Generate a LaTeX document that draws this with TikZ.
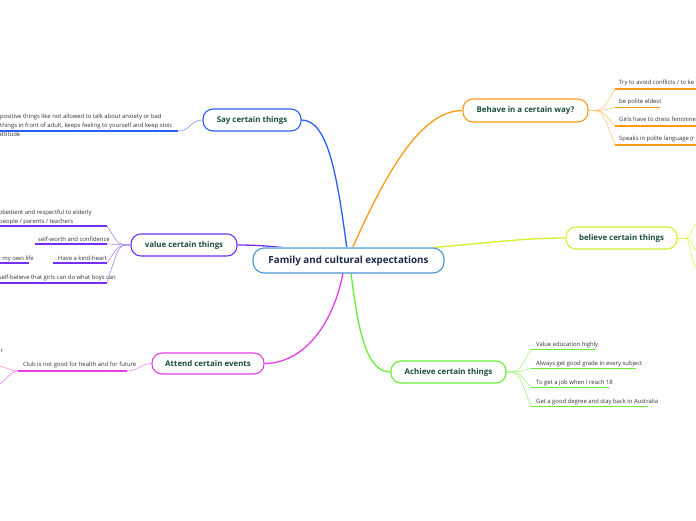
\documentclass[tikz,border=0pt]{standalone}
\usepackage{fontspec}
\setmainfont{Open Sans}
\definecolor{tgreen}{HTML}{1B4D3E}
\definecolor{navy}{HTML}{1C2A4A}
\definecolor{cblue}{HTML}{4A94D4}
\definecolor{ctop}{HTML}{8EC2EA}
\definecolor{bblue}{HTML}{2A5EF5}
\definecolor{bpurple}{HTML}{7430F0}
\definecolor{bmag}{HTML}{E63CE8}
\definecolor{borange}{HTML}{FF9A12}
\definecolor{byellow}{HTML}{D4F02A}
\definecolor{bgreen}{HTML}{66EE33}
\definecolor{leafgray}{HTML}{333333}
\begin{document}
\begin{tikzpicture}[x=1pt,y=-1pt,
  topic/.style={draw, fill=white, rounded corners=10pt, line width=1.1pt, text=tgreen,
    font=\bfseries\fontsize{7.9}{9}\selectfont, minimum height=22pt, inner sep=0pt},
  centre/.style={draw=cblue, fill=white, rounded corners=11pt, line width=1.1pt, text=navy,
    font=\bfseries\fontsize{9.8}{11}\selectfont, minimum height=25pt, minimum width=191pt, inner sep=0pt},
  leaf/.style={font=\fontsize{5.9}{7}\selectfont, text=leafgray, anchor=base west, inner sep=0pt},
  leafe/.style={font=\fontsize{5.9}{7}\selectfont, text=leafgray, anchor=base east, inner sep=0pt},
  under/.style={line width=1.5pt},
  conn/.style={line width=0.6pt},
  mainc/.style={line width=1.3pt}]
\useasboundingbox (0,0) rectangle (696,520);
\begin{scope}
\clip (0,0) rectangle (696,520);

% ---------- main branches ----------
\coordinate (cSay) at (347,249);
\coordinate (cBeh) at (352,249);
\coordinate (cVal) at (296,249);
\coordinate (cBel) at (420,248.5);
\coordinate (cAtt) at (343,273);
\coordinate (cAch) at (351,273);

\node[topic, draw=bblue, minimum width=98pt] (say) at (252,120) {Say certain things};
\node[topic, draw=bpurple, minimum width=106pt] (val) at (184,245) {value certain things};
\node[topic, draw=bmag, minimum width=112pt, minimum height=21pt] (att) at (208,363.5) {Attend certain events};
\node[topic, draw=borange, minimum width=125pt, minimum height=23pt] (beh) at (525.5,110.5) {Behave in a certain way?};
\node[topic, draw=byellow, minimum width=111pt] (bel) at (621.5,238) {believe certain things};
\node[topic, draw=bgreen, minimum width=115pt] (ach) at (448.5,372) {Achieve certain things};

\draw[mainc, bblue] (cSay) .. controls (337,175) and (328,120) .. (say.east);
\draw[mainc, borange] (cBeh) .. controls (385,175) and (420,110.5) .. (beh.west);
\draw[mainc, bpurple] (cVal) .. controls (270,246) and (255,245) .. (val.east);
\draw[mainc, byellow] (cBel) .. controls (480,244) and (520,238) .. (bel.west);
\draw[mainc, bmag] (cAtt) .. controls (332,330) and (300,363.5) .. (att.east);
\draw[mainc, bgreen] (cAch) .. controls (358,330) and (366,372) .. (ach.west);

\node[centre] (root) at (348.5,260.5) {Family and cultural expectations};
\draw[ctop, line width=1.3pt] ([xshift=11pt]root.north west) -- ([xshift=-11pt]root.north east);

% ---------- Say certain things ----------
\coordinate (s1a) at (-2,131);
\coordinate (s1b) at (178,131);
\draw[under, bblue] (s1a) -- (s1b);
\draw[conn, bblue!60] (say.west) .. controls (190,120) and (191,131) .. (s1b);
\node[leaf] (s1t1) at (0,118) {positive things like not allowed to talk about anxiety or bad};
\node[leaf] (s1t2) at (0,127) {things in front of adult, keeps feeling to yourself and keep stoic};
\node[leaf] (s1t3) at (-1.5,136) {attitude};

% ---------- value certain things ----------
\coordinate (v1a) at (-2,226);   \coordinate (v1b) at (107,226);
\coordinate (v2a) at (35,244);   \coordinate (v2b) at (107,244);
\coordinate (v3a) at (53,263);   \coordinate (v3b) at (107,263);
\coordinate (v4a) at (-2,283);   \coordinate (v4b) at (107,283);
\coordinate (v5a) at (-2,263);   \coordinate (v5b) at (29,263);
\foreach \a/\b in {v1a/v1b, v2a/v2b, v3a/v3b, v4a/v4b, v5a/v5b}
  \draw[under, bpurple] (\a) -- (\b);
\foreach \b in {v1b, v2b, v3b, v4b}
  \draw[conn, bpurple!60] (val.west) .. controls (118,245) and (119,245) .. (\b);
\node[leaf] (v1t1) at (-1.5,214) {obedient and respectful to elderly};
\node[leaf] (v1t2) at (-1,223) {people / parents / teachers};
\node[leaf] (v2t) at (38,241) {self-worth and confidence};
\node[leaf] (v3t) at (58,260) {Have a kind-heart};
\node[leafe] (v5t) at (34,260) {t my own life};
\node[leaf] (v4t) at (-1.5,279) {self-believe that girls can do what boys can};

% ---------- Attend certain events ----------
\coordinate (a1a) at (18,371);  \coordinate (a1b) at (127,371);
\coordinate (a2) at (-4,366);   \coordinate (a3) at (-4,385);
\draw[under, bmag] (a1a) -- (a1b);
\draw[conn, bmag!60] (att.west) .. controls (140,363.5) and (139,371) .. (a1b);
\draw[conn, bmag!60] (a1a) .. controls (9,371) and (6,366) .. (a2);
\draw[conn, bmag!60] (a1a) .. controls (9,371) and (4,385) .. (a3);
\node[leaf] (a1t) at (23,366.5) {Club is not good for health and for future};
\node[leafe] (a2t) at (3.5,352) {r};

% ---------- Behave in a certain way? ----------
\coordinate (b1a) at (615,89);    \coordinate (b1b) at (700,89);
\coordinate (b2a) at (615,107.5); \coordinate (b2b) at (660,107.5);
\coordinate (b3a) at (615,126);   \coordinate (b3b) at (700,126);
\coordinate (b4a) at (615,145);   \coordinate (b4b) at (700,145);
\foreach \a/\b in {b1a/b1b, b2a/b2b, b3a/b3b, b4a/b4b}{
  \draw[under, borange] (\a) -- (\b);
  \draw[conn, borange!55] (beh.east) .. controls (603,110.5) and (602,110.5) .. (\a);
}
\node[leaf] (b1t) at (619,84.5) {Try to avoid conflicts / to ke};
\node[leaf] (b2t) at (619,103) {be polite eldest};
\node[leaf] (b3t) at (619,121.5) {Girls have to dress feminine};
\node[leaf] (b4t) at (619,140.5) {Speaks in polite language (r};

% ---------- believe certain things ----------
\coordinate (e0) at (686,238);
\coordinate (e1) at (700,220);
\coordinate (e2) at (700,253);
\coordinate (e3) at (700,272);
\draw[conn, byellow!80] (bel.east) -- (e0);
\draw[conn, byellow!80] (e0) .. controls (692,238) and (692,224) .. (e1);
\draw[conn, byellow!80] (e0) .. controls (692,238) and (692,250) .. (e2);
\draw[conn, byellow!80] (e0) .. controls (690,238) and (690,265) .. (e3);

% ---------- Achieve certain things ----------
\coordinate (c1a) at (531,349.5); \coordinate (c1b) at (596,349.5);
\coordinate (c2a) at (531,368.5); \coordinate (c2b) at (636,368.5);
\coordinate (c3a) at (531,387.5); \coordinate (c3b) at (609,387.5);
\coordinate (c4a) at (531,406.5); \coordinate (c4b) at (648,406.5);
\foreach \a/\b in {c1a/c1b, c2a/c2b, c3a/c3b, c4a/c4b}{
  \draw[under, bgreen] (\a) -- (\b);
  \draw[conn, bgreen!60] (ach.east) .. controls (519,372) and (518,372) .. (\a);
}
\node[leaf] (c1t) at (536,346.5) {Value education highly};
\node[leaf] (c2t) at (536,365.5) {Always get good grade in every subject};
\node[leaf] (c3t) at (536,384.5) {To get a job when I reach 18};
\node[leaf] (c4t) at (536,403.5) {Get a good degree and stay back in Australia};
\end{scope}
\end{tikzpicture}
\end{document}
